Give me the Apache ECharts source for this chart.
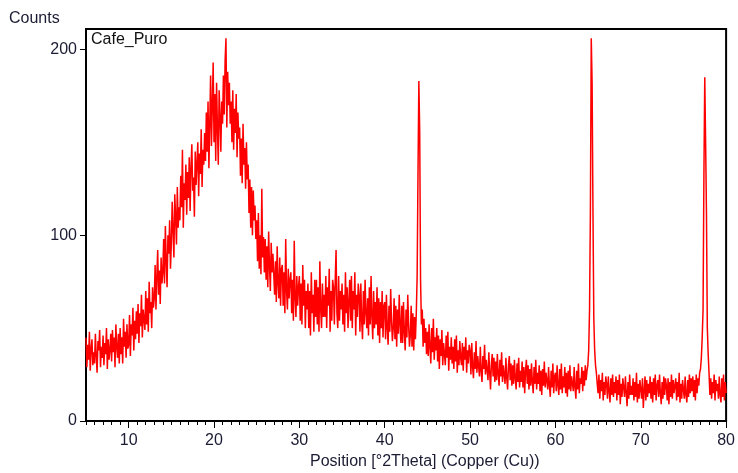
<!DOCTYPE html>
<html>
<head>
<meta charset="utf-8">
<script src="https://cdn.jsdelivr.net/npm/echarts@6/dist/echarts.min.js"></script>
<style>
html,body{margin:0;padding:0;background:#fff;}
#chart{width:738px;height:473px;}
</style>
</head>
<body>
<div id="chart"></div>
<script>
// 2Theta grid: start and step (degrees)
const xStart = 5;
const xStep = 0.1;

// Counts, 10 values per degree
const counts05_15 = [
  45, 29, 41, 33, 48, 27, 39, 44, 30, 37,
  31, 47, 35, 26, 43, 38, 49, 29, 40, 34,
  46, 30, 42, 36, 50, 28, 44, 33, 38, 47,
  32, 49, 37, 45, 29, 52, 40, 34, 47, 31,
  50, 36, 45, 31, 55, 40, 48, 34, 52, 39,
  41, 57, 35, 52, 46, 61, 38, 54, 44, 59,
  47, 63, 42, 58, 51, 68, 45, 60, 55, 49,
  70, 52, 66, 48, 75, 58, 64, 50, 72, 61,
  66, 84, 60, 78, 92, 68, 81, 63, 88, 74,
  80, 98, 74, 105, 86, 72, 100, 90, 108, 82
];
const counts15_25 = [
  96, 118, 102, 88, 122, 110, 95, 126, 104, 115,
  108, 132, 115, 146, 104, 128, 119, 138, 111, 134,
  120, 142, 113, 136, 149, 124, 131, 110, 145, 127,
  128, 150, 121, 144, 133, 157, 126, 146, 138, 155,
  140, 166, 145, 172, 136, 160, 186, 148, 170, 193,
  150, 176, 140, 182, 158, 138, 178, 164, 145, 172,
  160, 186, 165, 194, 206, 158, 188, 170, 182, 160,
  172, 150, 178, 146, 168, 155, 176, 142, 166, 152,
  158, 132, 152, 128, 160, 138, 147, 125, 150, 130,
  138, 112, 130, 104, 126, 100, 124, 108, 116, 98
];
const counts25_35 = [
  108, 86, 112, 82, 100, 79, 125, 88, 99, 80,
  98, 76, 94, 72, 102, 84, 70, 96, 80, 90,
  90, 68, 86, 64, 94, 74, 66, 88, 62, 82,
  84, 62, 80, 58, 98, 70, 60, 82, 66, 76,
  80, 58, 76, 54, 97, 66, 56, 78, 62, 72,
  78, 54, 74, 52, 84, 62, 76, 50, 70, 60,
  74, 50, 70, 46, 80, 58, 68, 48, 76, 56,
  76, 52, 72, 48, 86, 60, 50, 74, 56, 68,
  56, 78, 50, 72, 62, 82, 48, 70, 54, 76,
  72, 52, 76, 92, 58, 50, 78, 54, 70, 60
];
const counts35_45 = [
  74, 52, 68, 48, 80, 58, 72, 50, 64, 76,
  54, 78, 50, 70, 60, 80, 46, 68, 56, 74,
  68, 48, 74, 54, 44, 70, 52, 76, 58, 50,
  66, 46, 72, 52, 78, 56, 44, 70, 50, 64,
  52, 72, 46, 66, 42, 64, 50, 70, 45, 62,
  64, 44, 68, 50, 41, 62, 48, 71, 54, 43,
  50, 66, 44, 62, 40, 60, 47, 68, 52, 42,
  62, 42, 64, 48, 38, 60, 45, 68, 52, 40,
  46, 62, 40, 58, 38, 56, 44, 58, 78, 133,
  183, 156, 76, 52, 60, 40, 55, 42, 50, 36
];
const counts45_55 = [
  48, 35, 52, 40, 31, 50, 37, 55, 33, 45,
  38, 50, 32, 46, 28, 44, 35, 49, 30, 42,
  42, 30, 46, 34, 48, 27, 40, 33, 45, 31,
  40, 28, 44, 32, 46, 26, 38, 30, 43, 34,
  30, 42, 27, 40, 33, 45, 26, 38, 31, 41,
  38, 25, 42, 29, 23, 37, 28, 43, 26, 35,
  36, 24, 40, 27, 21, 35, 28, 41, 25, 33,
  33, 22, 37, 26, 17, 31, 36, 24, 34, 21,
  32, 22, 36, 25, 19, 33, 24, 37, 21, 30,
  29, 20, 34, 23, 17, 30, 35, 22, 31, 19
];
const counts55_65 = [
  30, 20, 33, 23, 17, 31, 21, 34, 18, 27,
  21, 32, 18, 29, 15, 27, 33, 20, 30, 17,
  28, 19, 31, 21, 15, 29, 20, 33, 17, 26,
  20, 30, 16, 27, 14, 28, 19, 32, 18, 26,
  25, 17, 29, 19, 13, 27, 18, 31, 15, 24,
  26, 16, 30, 19, 14, 28, 17, 31, 15, 24,
  18, 29, 15, 26, 13, 27, 17, 30, 16, 24,
  25, 16, 29, 18, 12, 27, 17, 31, 15, 23,
  20, 29, 16, 27, 19, 30, 22, 27, 30, 38,
  60, 113, 206, 182, 113, 55, 38, 30, 26, 20
];
const counts65_75 = [
  15, 25, 12, 22, 16, 26, 11, 21, 14, 24,
  20, 12, 24, 16, 10, 23, 14, 25, 13, 21,
  15, 24, 11, 22, 14, 25, 9, 20, 13, 23,
  22, 13, 24, 15, 8, 21, 12, 25, 14, 19,
  14, 23, 11, 21, 13, 26, 10, 20, 12, 22,
  21, 12, 23, 7, 16, 24, 11, 22, 13, 20,
  15, 24, 12, 21, 10, 23, 14, 25, 11, 19,
  22, 13, 25, 15, 9, 21, 12, 24, 14, 23,
  19, 11, 23, 9, 21, 13, 25, 12, 22, 15,
  14, 23, 11, 21, 13, 26, 10, 20, 12, 22
];
const counts75_80 = [
  21, 12, 24, 14, 10, 22, 13, 25, 15, 23,
  16, 24, 13, 22, 11, 25, 15, 23, 19, 26,
  28, 34, 45, 60, 132, 185, 150, 112, 50, 36,
  26, 14, 23, 12, 21, 15, 25, 11, 22, 16,
  20, 12, 24, 14, 10, 23, 13, 25, 11, 21,
  15
];

// Tick labels
const xTickValues = [10, 20, 30, 40, 50, 60, 70, 80];
const yTickValues = [0, 100, 200];
const sampleName = 'Cafe_Puro';
const yTitle = 'Counts';
const xTitle = 'Position [°2Theta] (Copper (Cu))';

const counts = [].concat(counts05_15, counts15_25, counts25_35, counts35_45,
  counts45_55, counts55_65, counts65_75, counts75_80);
const seriesData = counts.map((v, i) => [Math.round((xStart + i * xStep) * 100) / 100, v]);

const FONT = "'Liberation Sans', Arial, sans-serif";
const TXT = '#1b1b33';

const chart = echarts.init(document.getElementById('chart'), null, {renderer: 'canvas'});
chart.setOption({
  animation: false,
  backgroundColor: '#ffffff',
  grid: {
    left: 86, right: 9, top: 29, bottom: 52,
    show: true, borderColor: '#000', borderWidth: 2, backgroundColor: 'transparent'
  },
  xAxis: [
    {
      type: 'value', position: 'bottom', min: 5, max: 80, interval: 1,
      axisLine: {show: true, lineStyle: {color: '#000', width: 2}},
      axisTick: {show: true, length: 4, lineStyle: {color: '#000', width: 1}},
      axisLabel: {show: false},
      splitLine: {show: false}
    },
    {
      type: 'value', position: 'bottom', min: 5, max: 80,
      axisLine: {show: true, lineStyle: {color: 'rgba(0,0,0,0)', width: 1}},
      axisTick: {show: true, customValues: xTickValues, length: 7, lineStyle: {color: '#000', width: 1}},
      axisLabel: {show: true, customValues: xTickValues, margin: 12, color: TXT, fontSize: 16, fontFamily: FONT},
      splitLine: {show: false}
    }
  ],
  yAxis: {
    type: 'value', min: 0, max: 211,
    axisLine: {show: true, lineStyle: {color: '#000', width: 2}},
    axisTick: {show: true, customValues: yTickValues, length: 6, lineStyle: {color: '#000', width: 1}},
    axisLabel: {show: true, customValues: yTickValues, margin: 9, color: TXT, fontSize: 16, fontFamily: FONT},
    splitLine: {show: false}
  },
  graphic: [
    {type: 'text', left: 9, top: 11, style: {text: yTitle, fill: TXT, font: '16px ' + FONT}},
    {type: 'text', left: 91, top: 32, style: {text: sampleName, fill: '#111', font: '16px ' + FONT}},
    {type: 'text', left: 310, top: 454, style: {text: xTitle, fill: TXT, font: '16px ' + FONT}}
  ],
  series: [{
    type: 'line',
    xAxisIndex: 0,
    data: seriesData,
    showSymbol: false,
    symbol: 'none',
    sampling: null,
    lineStyle: {color: '#ff0000', width: 1.5},
    z: 1
  }]
});
</script>
</body>
</html>
